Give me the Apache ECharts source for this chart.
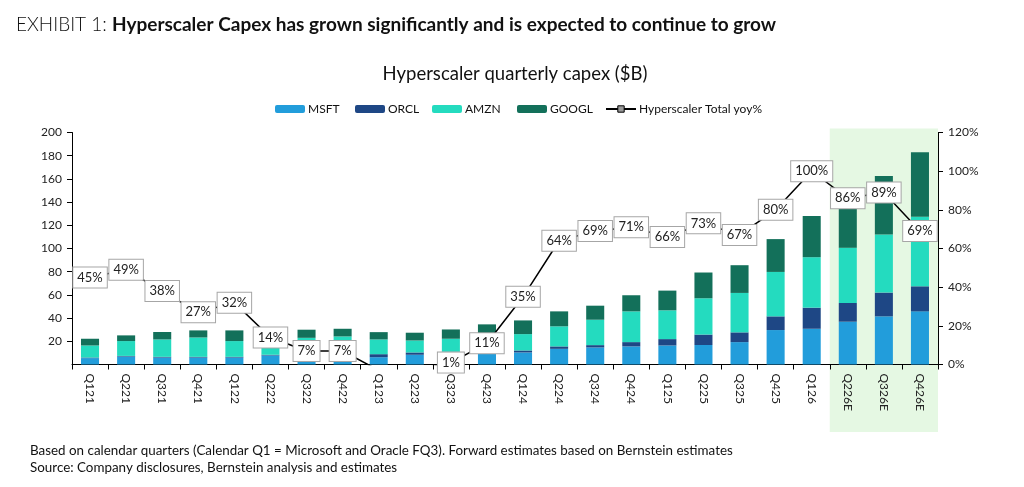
<!DOCTYPE html>
<html>
<head>
<meta charset="utf-8">
<script src="https://cdn.jsdelivr.net/npm/echarts@6/dist/echarts.min.js"></script>
<style>
html,body{margin:0;padding:0;background:#fff;}
#c{width:1024px;height:487px;}
</style>
</head>
<body>
<div id="c"></div>
<script>
const categories = ['Q121','Q221','Q321','Q421','Q122','Q222','Q322','Q422','Q123','Q223','Q323','Q423','Q124','Q224','Q324','Q424','Q125','Q225','Q325','Q425','Q126','Q226E','Q326E','Q426E'];
const msft  = [5.5,6.9,6.0,6.0,6.0,7.8,6.5,7.0,6.3,8.4,9.5,10.5,10.4,13.5,14.7,15.6,16.4,16.8,19.3,29.7,30.8,36.9,41.5,45.8];
const orcl  = [0.5,0.5,0.6,0.6,0.6,0.6,0.8,1.0,2.6,2.0,1.5,1.7,1.7,2.1,2.0,3.7,5.5,9.0,8.4,11.8,18.2,16.1,20.5,21.6];
const amzn  = [10.4,12.8,15.0,16.7,13.6,14.5,15.7,16.2,12.7,10.3,11.2,14.3,14.1,17.3,21.9,26.5,24.8,31.3,34.0,38.3,43.5,47.6,50.1,60.0];
const googl = [5.8,4.9,6.4,6.1,9.2,6.5,7.0,6.6,6.3,6.7,8.0,8.1,11.8,12.9,12.1,13.9,17.0,22.2,23.9,28.3,35.5,37.4,50.5,55.6];
const yoy   = [45,49,38,27,32,14,7,7,-3,-3,1,11,35,64,69,71,66,73,67,80,100,86,89,69];
const forecastCats = ['Q226E','Q426E'];
const legendNames = ['MSFT','ORCL','AMZN','GOOGL','Hyperscaler Total yoy%'];

const FONT = 'Lato, "Open Sans", sans-serif';
const chart = echarts.init(document.getElementById('c'));

const barSeries = (name, data, color) => ({
  name, type: 'bar', stack: 'capex', data, barWidth: '50%',
  itemStyle: { color }, z: 3
});

const legendLefts = [270, 350, 427, 512, 600];
const legends = legendNames.map((n, i) => ({
  top: 98, left: legendLefts[i],
  itemWidth: 30, itemHeight: 8, itemGap: 10,
  textStyle: { fontFamily: FONT, fontSize: 12, color: '#111', padding: [0, 0, 0, -2] },
  data: [i === 4 ? { name: n, itemStyle: { color: '#999', borderColor: '#000', borderWidth: 1 } } : n]
}));

const option = {
  animation: false,
  textStyle: { fontFamily: FONT },
  title: [
    {
      text: '{l|EXHIBIT 1: }{b|Hyperscaler Capex has grown significantly and is expected to continue to grow}',
      left: 11, top: 10,
      textStyle: {
        rich: {
          l: { fontFamily: FONT, fontSize: 19, fontWeight: 300, color: '#111' },
          b: { fontFamily: FONT, fontSize: 19, fontWeight: 'bold', color: '#111' }
        }
      }
    },
    {
      text: 'Hyperscaler quarterly capex ($B)',
      left: 510, textAlign: 'center', top: 60,
      textStyle: { fontFamily: FONT, fontSize: 18.5, fontWeight: 'normal', color: '#111' }
    }
  ],
  legend: legends,
  grid: { left: 72, right: 86, top: 132.5, bottom: 122.5, containLabel: false },
  xAxis: {
    type: 'category', data: categories, boundaryGap: true,
    axisLine: { lineStyle: { color: '#000', width: 1 } },
    axisTick: { show: true, alignWithLabel: false, length: 5, lineStyle: { color: '#000' } },
    axisLabel: { rotate: -90, fontSize: 12, color: '#222', margin: 9, fontFamily: FONT }
  },
  yAxis: [
    {
      type: 'value', min: 0, max: 200, interval: 20,
      axisLine: { show: true, lineStyle: { color: '#000' } },
      axisTick: { show: true, length: 5, lineStyle: { color: '#000' } },
      splitLine: { show: false },
      axisLabel: { showMinLabel: false, fontSize: 12, color: '#222', margin: 10, fontFamily: FONT }
    },
    {
      type: 'value', min: 0, max: 120, interval: 20, position: 'right',
      axisLine: { show: true, lineStyle: { color: '#000' } },
      axisTick: { show: true, length: 5, lineStyle: { color: '#000' } },
      splitLine: { show: false },
      axisLabel: { formatter: '{value}%', fontSize: 12, color: '#222', margin: 10, fontFamily: FONT }
    }
  ],
  series: [
    barSeries('MSFT', msft, '#229ddb'),
    barSeries('ORCL', orcl, '#1e4785'),
    barSeries('AMZN', amzn, '#24dbbf'),
    barSeries('GOOGL', googl, '#13705a'),
    {
      name: 'Hyperscaler Total yoy%', type: 'line', yAxisIndex: 1,
      data: yoy.map(v => ({ value: v, label: { show: v >= 0 } })),
      clip: true, z: 6,
      symbol: 'rect', symbolSize: 6,
      itemStyle: { color: '#999', borderColor: '#000', borderWidth: 1 },
      lineStyle: { color: '#000', width: 1.5 },
      label: {
        show: true, position: 'inside', formatter: '{c}%',
        fontFamily: FONT, fontSize: 13, color: '#222',
        backgroundColor: '#fff', borderColor: '#a6a6a6', borderWidth: 1,
        padding: [4, 4, 3, 4]
      }
    }
  ],
  graphic: [
    { type: 'text', left: 30, top: 444, style: { text: 'Based on calendar quarters (Calendar Q1 = Microsoft and Oracle FQ3). Forward estimates based on Bernstein estimates', fontFamily: FONT, fontSize: 13.4, fill: '#111' } },
    { type: 'text', left: 30, top: 461, style: { text: 'Source: Company disclosures, Bernstein analysis and estimates', fontFamily: FONT, fontSize: 13.4, fill: '#111' } }
  ]
};

chart.setOption(option);

// forecast shading, derived from the category axis positions
const xa = chart.convertToPixel({ xAxisIndex: 0 }, forecastCats[0]);
const xb = chart.convertToPixel({ xAxisIndex: 0 }, forecastCats[1]);
const step = chart.convertToPixel({ xAxisIndex: 0 }, categories[1]) - chart.convertToPixel({ xAxisIndex: 0 }, categories[0]);
const yTop = chart.convertToPixel({ yAxisIndex: 0 }, 200);
chart.setOption({
  graphic: [
    option.graphic[0], option.graphic[1],
    {
      type: 'rect', z: -10, silent: true,
      shape: { x: xa - step / 2, y: yTop - 4, width: xb - xa + step, height: 432 - (yTop - 4) },
      style: { fill: '#e5f8e3' }
    }
  ]
});
</script>
</body>
</html>
